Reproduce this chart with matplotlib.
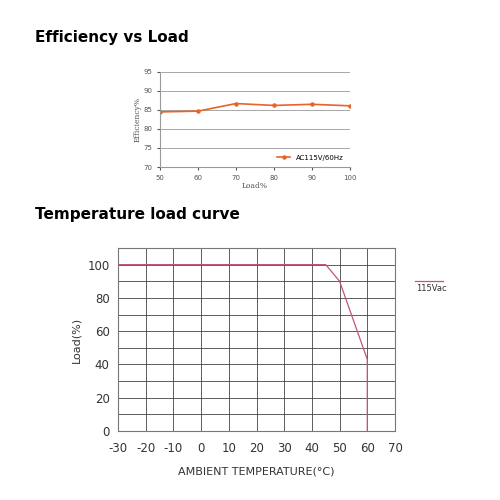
import matplotlib
matplotlib.use("Agg")
import matplotlib.pyplot as plt
from matplotlib.lines import Line2D

plt.rcParams["axes.unicode_minus"] = False

load_pct = [50, 60, 70, 80, 90, 100]
efficiency = [84.5, 84.7, 86.7, 86.2, 86.5, 86.1]
temp = [-30, 45, 50, 60, 60]
derate = [100, 100, 90, 43, 0]

fig = plt.figure(figsize=(5, 5), dpi=100)
fig.text(0.07, 0.925, "Efficiency vs Load", fontsize=11, fontweight="semibold", va="center")
fig.text(0.07, 0.57, "Temperature load curve", fontsize=11, fontweight="semibold", va="center")

ax1 = fig.add_axes([0.32, 0.666, 0.38, 0.19])
ax1.plot(load_pct, efficiency, color="#e8632a", marker="o", markersize=2.2, lw=1.2, label="AC115V/60Hz")
ax1.set_xlim(50, 100); ax1.set_ylim(70, 95)
ax1.set_xticks(load_pct); ax1.set_yticks([70, 75, 80, 85, 90, 95])
ax1.yaxis.grid(True, color="#999999", lw=0.6)
ax1.tick_params(labelsize=5, colors="#555555", length=2)
for s in ["top", "right"]:
    ax1.spines[s].set_visible(False)
for s in ["left", "bottom"]:
    ax1.spines[s].set_color("#999999")
ax1.set_xlabel("Load%", fontsize=5.5, family="serif", color="#555555", labelpad=1)
ax1.set_ylabel("Efficiency%", fontsize=5.5, family="serif", color="#555555", labelpad=1)
ax1.legend(loc="lower right", fontsize=5, frameon=False)

ax2 = fig.add_axes([0.236, 0.138, 0.554, 0.366])
ax2.plot(temp, derate, color="#c0557a", lw=0.9)
ax2.set_xlim(-30, 70); ax2.set_ylim(0, 110)
ax2.set_xticks(range(-30, 71, 10)); ax2.set_yticks(range(0, 101, 20))
ax2.set_yticks(range(0, 111, 10), minor=True)
ax2.grid(True, which="both", color="#444444", lw=0.6)
ax2.tick_params(which="both", length=0, labelsize=8.5, colors="#333333")
ax2.tick_params(axis="x", pad=8)
ax2.tick_params(axis="y", pad=6)
for s in ax2.spines.values():
    s.set_color("#777777")
ax2.set_xlabel("AMBIENT TEMPERATURE(°C)", fontsize=8, color="#333333", labelpad=8)
ax2.set_ylabel("Load(%)", fontsize=8, color="#333333")
fig.add_artist(Line2D([0.83, 0.885], [0.438, 0.438], color="#c0557a", lw=0.9))
fig.text(0.832, 0.432, "115Vac", fontsize=6, color="#333333", va="top")

fig.savefig("out.png", dpi=100)
